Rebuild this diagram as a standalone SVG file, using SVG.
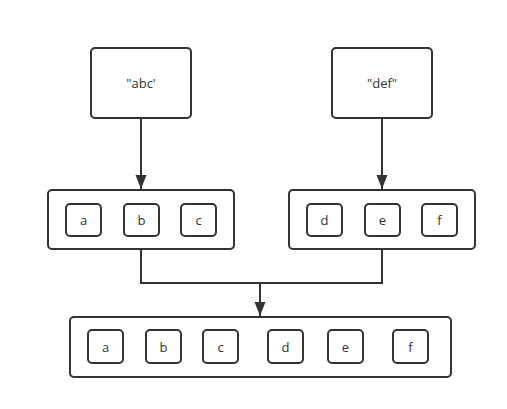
<svg xmlns="http://www.w3.org/2000/svg" width="507" height="409" viewBox="0 0 507 409">
<style>
.box{fill:#fff;stroke:#333;stroke-width:2}
.t{font-family:"Open Sans","Noto Sans",sans-serif;font-size:13px;fill:#333;text-anchor:middle;dominant-baseline:central}
.c{fill:none;stroke:#333;stroke-width:2}
</style>
<defs>
<marker id="ah" markerWidth="14" markerHeight="12" refX="14" refY="6" orient="auto" markerUnits="userSpaceOnUse">
<path d="M0,0.5 L14,6 L0,11.5 Z" fill="#333"/>
</marker>
</defs>
<rect width="507" height="409" fill="#fff"/>
<g id="src-abc"><rect class="box" x="91" y="48" width="100" height="70" rx="4"/><text class="t" x="141" y="83">"abc'</text></g>
<g id="src-def"><rect class="box" x="332" y="48" width="100" height="70" rx="4"/><text class="t" x="382" y="83">"def"</text></g>
<g id="group1">
<rect class="box" x="48" y="190" width="186" height="59" rx="4"/>
<rect class="box" x="66" y="204" width="35" height="32" rx="4"/><text class="t" x="83.5" y="220">a</text>
<rect class="box" x="124" y="204" width="35" height="32" rx="4"/><text class="t" x="141.5" y="220">b</text>
<rect class="box" x="181" y="204" width="35" height="32" rx="4"/><text class="t" x="198.5" y="220">c</text>
</g>
<g id="group2">
<rect class="box" x="289" y="190" width="186" height="59" rx="4"/>
<rect class="box" x="307" y="204" width="35" height="32" rx="4"/><text class="t" x="324.5" y="220">d</text>
<rect class="box" x="365" y="204" width="35" height="32" rx="4"/><text class="t" x="382.5" y="220">e</text>
<rect class="box" x="422" y="204" width="35" height="32" rx="4"/><text class="t" x="439.5" y="220">f</text>
</g>
<g id="result">
<rect class="box" x="70" y="317" width="381" height="60" rx="4"/>
<rect class="box" x="88" y="330" width="35" height="33" rx="4"/><text class="t" x="105.5" y="347">a</text>
<rect class="box" x="146" y="330" width="35" height="33" rx="4"/><text class="t" x="163.5" y="347">b</text>
<rect class="box" x="203" y="330" width="35" height="33" rx="4"/><text class="t" x="220.5" y="347">c</text>
<rect class="box" x="268" y="330" width="35" height="33" rx="4"/><text class="t" x="285.5" y="347">d</text>
<rect class="box" x="328" y="330" width="35" height="33" rx="4"/><text class="t" x="345.5" y="347">e</text>
<rect class="box" x="393" y="330" width="35" height="33" rx="4"/><text class="t" x="410.5" y="347">f</text>
</g>
<g id="connectors">
<path class="c" d="M141,118 V189" marker-end="url(#ah)"/>
<path class="c" d="M382,118 V189" marker-end="url(#ah)"/>
<path class="c" d="M141,250 V283 H382 V250"/>
<path class="c" d="M260,283 V316" marker-end="url(#ah)"/>
</g>
</svg>
